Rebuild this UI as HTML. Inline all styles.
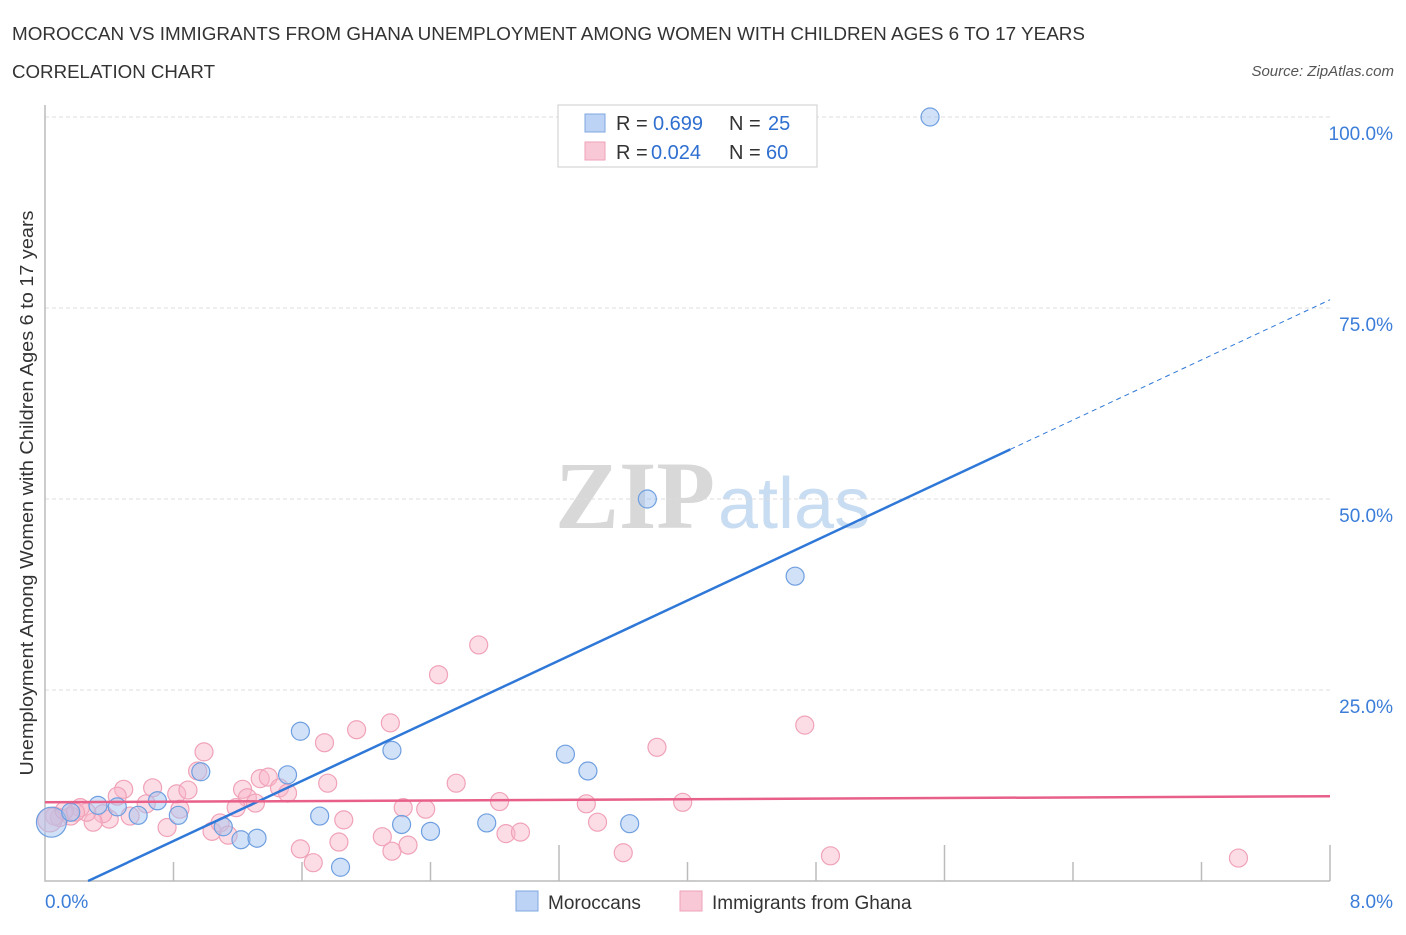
<!DOCTYPE html>
<html><head><meta charset="utf-8"><style>
body{margin:0;background:#fff;font-family:"Liberation Sans",sans-serif}
svg text{font-family:"Liberation Sans",sans-serif}
</style></head><body>
<svg width="1406" height="930" id="c">
<text x="12" y="40" font-size="18" fill="#333" textLength="1073" lengthAdjust="spacingAndGlyphs">MOROCCAN VS IMMIGRANTS FROM GHANA UNEMPLOYMENT AMONG WOMEN WITH CHILDREN AGES 6 TO 17 YEARS</text>
<text x="12" y="78" font-size="18" fill="#333" textLength="203" lengthAdjust="spacingAndGlyphs">CORRELATION CHART</text>
<text x="1394" y="76" font-size="15" fill="#555" font-style="italic" text-anchor="end">Source: ZipAtlas.com</text>
<text x="33" y="493" font-size="18" fill="#333" text-anchor="middle" textLength="565" lengthAdjust="spacingAndGlyphs" transform="rotate(-90 33 493)">Unemployment Among Women with Children Ages 6 to 17 years</text>
<g>
<text x="555" y="528" font-size="96" fill="#d8d8d8" font-weight="bold" style="font-family:'Liberation Serif',serif">ZIP</text>
<text x="718" y="528" font-size="72" fill="#c8dcf2">atlas</text>
</g>
<g id="grid"></g><g id="axes"></g><g id="pts"></g><g id="lines"></g>
<g>
<rect x="558" y="105" width="259" height="62" fill="#fff" stroke="#ccc"/>
<rect x="585" y="114" width="20" height="18" fill="#bcd3f5" stroke="#7fa7e0"/>
<text x="616" y="130" font-size="20" fill="#333">R =</text>
<text x="653" y="130" font-size="20" fill="#2f6fd0">0.699</text>
<text x="729" y="130" font-size="20" fill="#333">N =</text>
<text x="768" y="130" font-size="20" fill="#2f6fd0">25</text>
<rect x="585" y="142" width="20" height="18" fill="#f9c8d6" stroke="#eea2b8"/>
<text x="616" y="159" font-size="20" fill="#333">R =</text>
<text x="651" y="159" font-size="20" fill="#2f6fd0">0.024</text>
<text x="729" y="159" font-size="20" fill="#333">N =</text>
<text x="766" y="159" font-size="20" fill="#2f6fd0">60</text>
</g>
<g>
<rect x="516" y="891" width="22" height="20" fill="#bcd3f5" stroke="#7fa7e0"/>
<text x="548" y="909" font-size="19" fill="#333">Moroccans</text>
<rect x="680" y="891" width="22" height="20" fill="#f9c8d6" stroke="#eea2b8"/>
<text x="712" y="909" font-size="19" fill="#333">Immigrants from Ghana</text>
</g>
</svg>
<script>
const yTicks=[25,50,75,100];
const yTickLabels=["25.0%","50.0%","75.0%","100.0%"];
const xEnds=["0.0%","8.0%"];
const moroccanX=[5.51,3.75,4.67,0.04,0.16,0.33,0.45,0.58,0.70,0.83,0.97,1.11,1.22,1.32,1.51,1.59,1.71,1.84,2.16,2.22,2.40,2.75,3.24,3.38,3.64];
const moroccanY=[100,50,39.9,7.7,9.0,9.9,9.7,8.6,10.5,8.6,14.3,7.1,5.4,5.6,13.9,19.6,8.5,1.8,17.1,7.4,6.5,7.6,16.6,14.4,7.5];
const ghanaX=[2.70,2.45,1.74,1.94,2.15,0.99,0.95,0.49,0.67,0.45,0.82,0.89,1.23,1.34,1.39,1.46,1.51,1.26,1.31,1.19,1.76,0.84,0.76,0.63,0.53,0.40,0.36,0.30,0.26,0.22,0.16,0.09,0.06,1.04,1.09,1.14,1.59,1.67,1.83,1.86,2.10,2.16,2.26,2.23,2.37,2.56,2.83,2.87,2.96,4.73,3.81,3.97,3.37,3.44,3.60,4.89,7.43,0.03,0.12,0.19];
const ghanaY=[30.9,27.0,18.1,19.8,20.7,16.9,14.4,12.0,12.2,11.1,11.4,11.9,12.0,13.4,13.6,12.2,11.5,10.9,10.2,9.6,12.8,9.4,7.0,10.1,8.5,8.1,8.8,7.7,9.0,9.6,8.5,8.3,8.5,6.5,7.6,6.0,4.2,2.4,5.1,8.0,5.8,3.9,4.7,9.6,9.4,12.8,10.4,6.2,6.4,20.4,17.5,10.3,10.1,7.7,3.7,3.3,3.0,8.0,9.2,9.0];
const blueLine=[-2.64,9.84], pinkLine=[10.3,0.1];
const NS="http://www.w3.org/2000/svg";
const X=v=>45+v/8*1285, Y=v=>881-v/100*764;
function mk(p,t,a){const e=document.createElementNS(NS,t);for(const k in a)e.setAttribute(k,a[k]);p.appendChild(e);return e;}
const grid=document.getElementById('grid'),axes=document.getElementById('axes'),pts=document.getElementById('pts'),lines=document.getElementById('lines');
yTicks.forEach((t,i)=>{
 const l=mk(grid,'line',{x1:45,x2:1330,y1:Y(t),y2:Y(t),stroke:'#ddd','stroke-dasharray':'4,3'});
 
 
 const tx=mk(grid,'text',{x:1393,y:Y(t)+23,'font-size':19,fill:'#3b7dd8','text-anchor':'end'});
 tx.textContent=yTickLabels[i];
 
 
});
const ax=mk(axes,'path',{d:'M45,105V881H1330',fill:'none',stroke:'#bbb','stroke-width':1.5});


for(let i=1;i<=10;i++){const x=X(i*0.8);const t=mk(axes,'line',{x1:x,x2:x,y1:i==4||i==7||i==10?845:862,y2:881,stroke:'#bbb','stroke-width':1.5});
 
 }
[[0,45,'start'],[8,1393,'end']].forEach((d,i)=>{const t=mk(axes,'text',{x:d[1],y:908,'font-size':19,fill:'#3b7dd8','text-anchor':d[2]});t.textContent=xEnds[i];
 
 });
ghanaX.forEach((x,i)=>{const c=mk(pts,'circle',{cx:X(x),cy:Y(ghanaY[i]),r:i==57?12:9,fill:'rgba(248,180,200,0.45)',stroke:'#f0a2b8','stroke-width':1.2});
 
 });
moroccanX.forEach((x,i)=>{const c=mk(pts,'circle',{cx:X(x),cy:Y(moroccanY[i]),r:i==3?15:9,fill:'rgba(164,196,240,0.5)',stroke:'#6f9fe0','stroke-width':1.2});
 
 });
const x0=-blueLine[0]/blueLine[1], x1=6.01;
let l=mk(lines,'line',{x1:X(x0),y1:Y(0),x2:X(x1),y2:Y(blueLine[0]+blueLine[1]*x1),stroke:'#2f78d8','stroke-width':2.5});


l=mk(lines,'line',{x1:X(x1),y1:Y(blueLine[0]+blueLine[1]*x1),x2:X(8),y2:Y(blueLine[0]+blueLine[1]*8),stroke:'#2f78d8','stroke-width':1,'stroke-dasharray':'5,4'});


l=mk(lines,'line',{x1:X(0),y1:Y(pinkLine[0]),x2:X(8),y2:Y(pinkLine[0]+pinkLine[1]*8),stroke:'#e8608a','stroke-width':2.5});


</script>
</body></html>
